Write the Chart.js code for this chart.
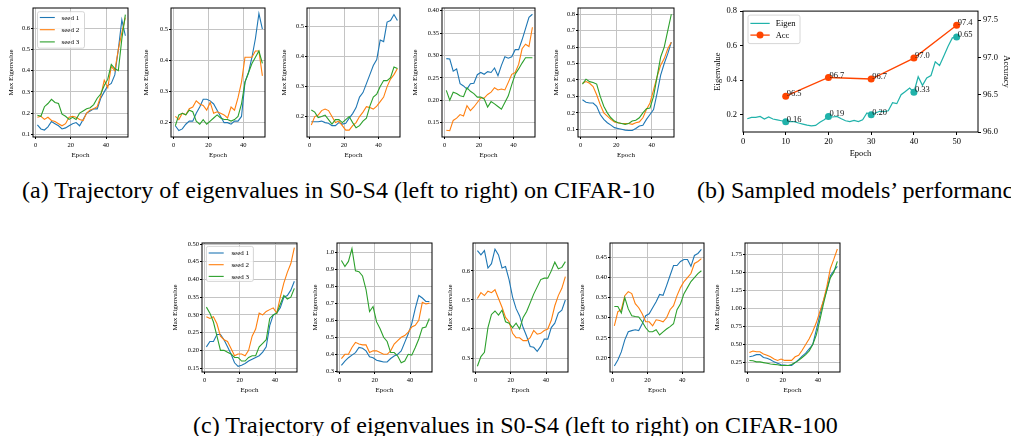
<!DOCTYPE html>
<html>
<head>
<meta charset="utf-8">
<title>Eigenvalue trajectories</title>
<script src="https://cdn.jsdelivr.net/npm/chart.js@4.4.1/dist/chart.umd.min.js"></script>
<style>
  html, body { margin: 0; padding: 0; background: #fff; }
  body { position: relative; width: 1011px; height: 436px; overflow: hidden; font-family: "Liberation Serif", "Times New Roman", serif; }
  .panel { position: absolute; }
  .caption { position: absolute; font-size: 24px; line-height: 1; white-space: nowrap; color: #000; }
</style>
</head>
<body>
<div class="caption" style="left:22px;top:178px">(a) Trajectory of eigenvalues in S0-S4 (left to right) on CIFAR-10</div>
<div class="caption" style="left:697px;top:178px">(b) Sampled models’ performance</div>
<div class="caption" style="left:193px;top:413px">(c) Trajectory of eigenvalues in S0-S4 (left to right) on CIFAR-100</div>
<script>
// ---- data ----
const epochs = [1, 3, 5, 7, 9, 11, 13, 15, 17, 19, 21, 23, 25, 27, 29, 31, 33, 35, 37, 39, 41, 43, 45, 47, 49, 51];
const xTicks = [0, 20, 40];
const seedLabels = ['seed 1', 'seed 2', 'seed 3'];

// CIFAR-10
const c10s0Seed1 = [0.144,0.125,0.12,0.135,0.16,0.15,0.14,0.125,0.13,0.14,0.15,0.155,0.14,0.17,0.2,0.21,0.22,0.22,0.27,0.3,0.33,0.34,0.38,0.5,0.64,0.565];
const c10s0Seed2 = [0.18,0.185,0.17,0.18,0.165,0.16,0.15,0.14,0.15,0.18,0.185,0.18,0.17,0.165,0.2,0.215,0.22,0.23,0.28,0.355,0.32,0.42,0.4,0.5,0.58,0.65];
const c10s0Seed3 = [0.19,0.185,0.23,0.245,0.265,0.25,0.245,0.195,0.185,0.17,0.18,0.17,0.2,0.21,0.22,0.225,0.24,0.27,0.29,0.33,0.36,0.43,0.41,0.4,0.55,0.665];
const c10s0Ticks = [0.1, 0.2, 0.3, 0.4, 0.5, 0.6];

const c10s1Seed1 = [0.19,0.175,0.18,0.195,0.205,0.205,0.23,0.25,0.275,0.275,0.27,0.26,0.24,0.22,0.2,0.2,0.195,0.205,0.205,0.22,0.33,0.36,0.41,0.47,0.55,0.5];
const c10s1Seed2 = [0.22,0.21,0.23,0.225,0.245,0.25,0.27,0.26,0.255,0.24,0.265,0.23,0.235,0.23,0.225,0.215,0.25,0.24,0.28,0.33,0.41,0.41,0.41,0.43,0.43,0.35];
const c10s1Seed3 = [0.19,0.225,0.23,0.225,0.24,0.235,0.205,0.195,0.21,0.195,0.205,0.215,0.225,0.215,0.21,0.21,0.205,0.21,0.22,0.26,0.33,0.36,0.39,0.41,0.43,0.39];
const c10s1Ticks = [0.2, 0.3, 0.4, 0.5];

const c10s2Seed1 = [0.183,0.183,0.183,0.185,0.18,0.178,0.17,0.17,0.18,0.175,0.178,0.195,0.21,0.23,0.265,0.28,0.31,0.34,0.37,0.39,0.455,0.45,0.515,0.52,0.54,0.52];
const c10s2Seed2 = [0.172,0.2,0.205,0.22,0.225,0.22,0.2,0.18,0.185,0.17,0.155,0.155,0.17,0.18,0.2,0.215,0.233,0.23,0.225,0.235,0.25,0.265,0.3,0.325,0.34,0.36];
const c10s2Seed3 = [0.222,0.215,0.197,0.2,0.205,0.19,0.175,0.19,0.19,0.18,0.19,0.2,0.18,0.163,0.17,0.185,0.195,0.235,0.265,0.275,0.3,0.32,0.32,0.33,0.365,0.36];
const c10s2Ticks = [0.2, 0.3, 0.4, 0.5];

const c10s3Seed1 = [0.293,0.292,0.265,0.27,0.237,0.232,0.225,0.237,0.238,0.257,0.262,0.258,0.264,0.262,0.272,0.255,0.278,0.297,0.294,0.297,0.313,0.313,0.335,0.36,0.385,0.392];
const c10s3Seed2 = [0.133,0.132,0.155,0.16,0.168,0.165,0.188,0.177,0.185,0.195,0.205,0.205,0.213,0.218,0.228,0.223,0.225,0.223,0.24,0.258,0.262,0.28,0.315,0.325,0.32,0.363];
const c10s3Seed3 = [0.222,0.2,0.218,0.215,0.21,0.208,0.228,0.22,0.215,0.207,0.207,0.203,0.185,0.197,0.192,0.186,0.18,0.195,0.21,0.235,0.258,0.27,0.283,0.295,0.295,0.295];
const c10s3Ticks = [0.15, 0.2, 0.25, 0.3, 0.35, 0.4];

const c10s4Seed1 = [0.28,0.265,0.26,0.26,0.24,0.19,0.16,0.14,0.125,0.11,0.105,0.1,0.095,0.093,0.093,0.105,0.12,0.125,0.16,0.19,0.22,0.32,0.43,0.5,0.56,0.63];
const c10s4Seed2 = [0.38,0.39,0.38,0.36,0.31,0.25,0.2,0.18,0.16,0.145,0.14,0.135,0.135,0.135,0.13,0.14,0.145,0.17,0.22,0.26,0.34,0.42,0.49,0.53,0.59,0.63];
const c10s4Seed3 = [0.375,0.405,0.39,0.385,0.375,0.3,0.24,0.2,0.17,0.15,0.14,0.135,0.13,0.135,0.15,0.155,0.17,0.2,0.225,0.23,0.3,0.42,0.54,0.6,0.7,0.8];
const c10s4Ticks = [0.1, 0.2, 0.3, 0.4, 0.5, 0.6, 0.7, 0.8];

// CIFAR-100
const c100s0Seed1 = [0.21,0.225,0.225,0.245,0.245,0.23,0.21,0.19,0.165,0.155,0.158,0.163,0.17,0.175,0.18,0.185,0.195,0.21,0.27,0.3,0.305,0.32,0.35,0.355,0.37,0.395];
const c100s0Seed2 = [0.295,0.29,0.295,0.275,0.24,0.23,0.225,0.205,0.185,0.19,0.19,0.185,0.2,0.24,0.26,0.305,0.3,0.31,0.315,0.32,0.305,0.35,0.39,0.42,0.445,0.49];
const c100s0Seed3 = [0.322,0.305,0.28,0.24,0.2,0.2,0.195,0.19,0.18,0.18,0.17,0.17,0.18,0.185,0.185,0.21,0.22,0.23,0.29,0.3,0.305,0.33,0.355,0.345,0.35,0.375];
const c100s0Ticks = [0.15, 0.2, 0.25, 0.3, 0.35, 0.4, 0.45, 0.5];

const c100s1Seed1 = [0.335,0.36,0.38,0.395,0.41,0.44,0.435,0.42,0.385,0.38,0.365,0.36,0.355,0.355,0.375,0.39,0.4,0.42,0.47,0.52,0.58,0.67,0.745,0.73,0.71,0.71];
const c100s1Seed2 = [0.375,0.4,0.4,0.44,0.47,0.46,0.455,0.455,0.41,0.42,0.42,0.41,0.4,0.4,0.42,0.46,0.48,0.5,0.51,0.53,0.56,0.57,0.6,0.705,0.695,0.7];
const c100s1Seed3 = [0.95,0.915,0.945,1.02,0.89,0.885,0.86,0.78,0.65,0.68,0.59,0.55,0.5,0.475,0.41,0.41,0.39,0.35,0.36,0.4,0.395,0.44,0.49,0.555,0.56,0.61];
const c100s1Ticks = [0.3, 0.4, 0.5, 0.6, 0.7, 0.8, 0.9, 1.0];

const c100s2Seed1 = [0.67,0.655,0.67,0.61,0.625,0.675,0.655,0.61,0.615,0.57,0.51,0.47,0.445,0.405,0.375,0.34,0.337,0.323,0.34,0.365,0.365,0.405,0.42,0.455,0.465,0.5];
const c100s2Seed2 = [0.505,0.525,0.515,0.53,0.525,0.535,0.505,0.475,0.44,0.425,0.385,0.37,0.37,0.36,0.36,0.37,0.395,0.382,0.385,0.395,0.4,0.43,0.48,0.515,0.54,0.58];
const c100s2Seed3 = [0.272,0.305,0.32,0.405,0.45,0.462,0.448,0.465,0.425,0.42,0.405,0.42,0.4,0.44,0.46,0.49,0.52,0.545,0.57,0.575,0.575,0.6,0.63,0.607,0.612,0.632];
const c100s2Ticks = [0.3, 0.4, 0.5, 0.6];

const c100s3Seed1 = [0.18,0.195,0.215,0.245,0.265,0.268,0.27,0.268,0.285,0.305,0.31,0.325,0.34,0.358,0.356,0.38,0.405,0.43,0.43,0.44,0.445,0.445,0.428,0.455,0.46,0.47];
const c100s3Seed2 = [0.28,0.315,0.32,0.355,0.365,0.36,0.335,0.325,0.31,0.29,0.29,0.28,0.295,0.293,0.29,0.3,0.32,0.33,0.355,0.375,0.39,0.4,0.41,0.435,0.44,0.447];
const c100s3Seed3 = [0.328,0.328,0.312,0.35,0.322,0.305,0.303,0.302,0.29,0.275,0.265,0.265,0.27,0.257,0.265,0.272,0.278,0.285,0.32,0.335,0.36,0.375,0.39,0.4,0.41,0.417];
const c100s3Ticks = [0.2, 0.25, 0.3, 0.35, 0.4, 0.45];

const c100s4Seed1 = [0.33,0.34,0.36,0.36,0.32,0.31,0.29,0.26,0.24,0.22,0.215,0.21,0.21,0.25,0.29,0.34,0.38,0.44,0.5,0.7,0.9,1.1,1.25,1.45,1.52,1.58];
const c100s4Seed2 = [0.39,0.41,0.4,0.4,0.37,0.35,0.33,0.3,0.28,0.3,0.28,0.28,0.28,0.33,0.35,0.42,0.5,0.58,0.68,0.8,0.95,1.1,1.3,1.55,1.68,1.82];
const c100s4Seed3 = [0.28,0.275,0.26,0.26,0.25,0.24,0.23,0.225,0.22,0.21,0.21,0.21,0.225,0.25,0.28,0.32,0.36,0.41,0.5,0.63,0.83,1.05,1.25,1.42,1.5,1.65];
const c100s4Ticks = [0.25, 0.5, 0.75, 1.0, 1.25, 1.5, 1.75];

// (b) sampled models
const bEpochs = [1,2,3,4,5,6,7,8,9,10,11,12,13,14,15,16,17,18,19,20,21,22,23,24,25,26,27,28,29,30,31,32,33,34,35,36,37,38,39,40,41,42,43,44,45,46,47,48,49,50];
const bEigen = [0.177,0.185,0.185,0.19,0.175,0.187,0.175,0.17,0.165,0.16, 0.16,0.16,0.152,0.146,0.14,0.136,0.138,0.156,0.171,0.19, 0.187,0.19,0.177,0.165,0.16,0.167,0.16,0.171,0.21,0.2, 0.21,0.22,0.218,0.223,0.27,0.264,0.316,0.335,0.355,0.33, 0.42,0.37,0.413,0.427,0.506,0.485,0.54,0.597,0.645,0.65];
const accEpochs = [10, 20, 30, 40, 50];
const accValues = [96.48, 96.73, 96.71, 96.99, 97.43];
const bXTicks = [0, 10, 20, 30, 40, 50];
const eigenTicks = [0.2, 0.4, 0.6, 0.8];
const accTicks = [96.0, 96.5, 97.0, 97.5];

// ---- styling ----
const SERIF = '"Liberation Serif", "Times New Roman", serif';
const SEED_COLORS = ['#1f77b4', '#ff7f0e', '#2ca02c'];
const GRID_COLOR = '#c4c4c4';
const TEAL = '#20b2aa';
const RED_ORANGE = '#ff4500';

Chart.defaults.animation = false;
Chart.defaults.color = '#000';

function makeCanvas(left, top, w, h) {
    const canvas = document.createElement('canvas');
    canvas.className = 'panel';
    canvas.width = w;
    canvas.height = h;
    canvas.style.left = left + 'px';
    canvas.style.top = top + 'px';
    canvas.style.width = w + 'px';
    canvas.style.height = h + 'px';
    document.body.appendChild(canvas);
    return canvas;
}

// black box round the plot area, like matplotlib spines
const framePlugin = {
    id: 'frame',
    afterDatasetsDraw(chart) {
        const a = chart.chartArea, ctx = chart.ctx;
        ctx.save();
        ctx.strokeStyle = '#000';
        ctx.lineWidth = 1;
        ctx.strokeRect(a.left, a.top, a.right - a.left, a.bottom - a.top);
        ctx.restore();
    }
};

// matplotlib-style legend drawn inside the plot area
function legendPlugin(box) {
    return {
        id: 'mplLegend',
        afterDraw(chart) {
            const a = chart.chartArea, ctx = chart.ctx;
            const x = a.left + box.x, y = a.top + box.y;
            ctx.save();
            ctx.beginPath();
            ctx.roundRect(x, y, box.w, box.h, 2);
            ctx.fillStyle = 'rgba(255,255,255,0.85)';
            ctx.fill();
            ctx.strokeStyle = '#cccccc';
            ctx.lineWidth = 0.8;
            ctx.stroke();
            ctx.font = box.size + 'px ' + SERIF;
            ctx.textBaseline = 'middle';
            ctx.textAlign = 'left';
            chart.data.datasets.forEach((ds, i) => {
                const cy = y + box.first + i * box.row;
                ctx.strokeStyle = ds.borderColor;
                ctx.lineWidth = ds.borderWidth;
                ctx.beginPath();
                ctx.moveTo(x + box.lx, cy);
                ctx.lineTo(x + box.lx + box.line, cy);
                ctx.stroke();
                if (ds.legendMarker) {
                    ctx.fillStyle = ds.borderColor;
                    ctx.beginPath();
                    ctx.arc(x + box.lx + box.line / 2, cy, ds.legendMarker, 0, Math.PI * 2);
                    ctx.fill();
                }
                ctx.fillStyle = '#000';
                ctx.fillText(ds.label, x + box.tx, cy + 0.5);
            });
            ctx.restore();
        }
    };
}

function fixedTicks(values) {
    return function(scale) { scale.ticks = values.map(v => ({ value: v })); };
}

function seedPanel(p) {
    const [l, t, r, b] = p.frame;
    const padTop = 8, padRight = 4, xAxisH = 22;
    const w = r - l + p.yw + padRight;
    const h = b - t + padTop + xAxisH;
    const canvas = makeCanvas(l - p.yw, t - padTop, w, h);
    const tickFont = { family: SERIF, size: 6.5 };
    const titleFont = { family: SERIF, size: 7 };

    const plugins = [framePlugin];
    if (p.legend) plugins.push(legendPlugin(p.legend));

    new Chart(canvas, {
        type: 'line',
        data: {
            datasets: p.series.map((s, i) => ({
                label: seedLabels[i],
                data: epochs.map((e, k) => ({ x: e, y: s[k] })),
                borderColor: SEED_COLORS[i],
                borderWidth: 1.1,
                pointRadius: 0,
                fill: false,
                tension: 0,
                order: 3 - i
            }))
        },
        options: {
            responsive: false,
            events: [],
            layout: { padding: { top: padTop, right: padRight, left: 0, bottom: 0 } },
            plugins: { legend: { display: false }, tooltip: { enabled: false } },
            scales: {
                x: {
                    type: 'linear',
                    min: -1.5,
                    max: 52.5,
                    afterBuildTicks: fixedTicks(xTicks),
                    afterFit: s => { s.height = xAxisH; },
                    ticks: { font: tickFont, color: '#000', padding: 2, maxRotation: 0, callback: v => String(v) },
                    grid: { color: GRID_COLOR, lineWidth: 1, tickColor: '#000', tickLength: 2 },
                    border: { display: false },
                    title: { display: true, text: 'Epoch', font: titleFont, color: '#000', padding: 0 }
                },
                y: {
                    type: 'linear',
                    min: p.yRange[0],
                    max: p.yRange[1],
                    afterBuildTicks: fixedTicks(p.ticks),
                    afterFit: s => { s.width = p.yw; },
                    ticks: { font: tickFont, color: '#000', padding: 1, callback: v => v.toFixed(p.dec) },
                    grid: { color: GRID_COLOR, lineWidth: 1, tickColor: '#000', tickLength: 2 },
                    border: { display: false },
                    title: { display: true, text: 'Max Eigenvalue', font: titleFont, color: '#000', padding: 0 }
                }
            }
        },
        plugins: plugins
    });
}

// ---- panel (a): CIFAR-10 ----
const seedLegendTop = { x: 4.5, y: 3.7, w: 47, h: 36.5, first: 5.8, row: 12.2, lx: 2.3, line: 15, tx: 24, size: 7 };
seedPanel({ frame: [33, 8, 128, 137], yw: 26, yRange: [0.087, 0.696], ticks: c10s0Ticks, dec: 1,
    series: [c10s0Seed1, c10s0Seed2, c10s0Seed3], legend: seedLegendTop });
seedPanel({ frame: [171, 8, 265, 137], yw: 29, yRange: [0.154, 0.568], ticks: c10s1Ticks, dec: 1,
    series: [c10s1Seed1, c10s1Seed2, c10s1Seed3] });
seedPanel({ frame: [307, 8, 400, 137], yw: 27, yRange: [0.132, 0.562], ticks: c10s2Ticks, dec: 1,
    series: [c10s2Seed1, c10s2Seed2, c10s2Seed3] });
seedPanel({ frame: [442, 8, 535, 137], yw: 31, yRange: [0.118, 0.406], ticks: c10s3Ticks, dec: 2,
    series: [c10s3Seed1, c10s3Seed2, c10s3Seed3] });
seedPanel({ frame: [578, 8, 674, 137], yw: 26, yRange: [0.053, 0.838], ticks: c10s4Ticks, dec: 1,
    series: [c10s4Seed1, c10s4Seed2, c10s4Seed3] });

// ---- panel (c): CIFAR-100 ----
const seedLegendBottom = { x: 4.4, y: 3.4, w: 47, h: 35, first: 6.6, row: 11.7, lx: 2.3, line: 15, tx: 25, size: 7 };
seedPanel({ frame: [202, 243, 297, 372], yw: 31, yRange: [0.139, 0.503], ticks: c100s0Ticks, dec: 2,
    series: [c100s0Seed1, c100s0Seed2, c100s0Seed3], legend: seedLegendBottom });
seedPanel({ frame: [337, 243, 432, 372], yw: 26, yRange: [0.296, 1.053], ticks: c100s1Ticks, dec: 1,
    series: [c100s1Seed1, c100s1Seed2, c100s1Seed3] });
seedPanel({ frame: [473, 243, 568, 372], yw: 27, yRange: [0.252, 0.696], ticks: c100s2Ticks, dec: 1,
    series: [c100s2Seed1, c100s2Seed2, c100s2Seed3] });
seedPanel({ frame: [610, 243, 704, 372], yw: 32, yRange: [0.165, 0.486], ticks: c100s3Ticks, dec: 2,
    series: [c100s3Seed1, c100s3Seed2, c100s3Seed3] });
seedPanel({ frame: [745, 243, 840, 372], yw: 32, yRange: [0.12, 1.903], ticks: c100s4Ticks, dec: 2,
    series: [c100s4Seed1, c100s4Seed2, c100s4Seed3] });

// ---- panel (b): eigenvalue vs accuracy ----
function perfPanel() {
    const frame = [743, 11, 978, 132];
    const yw = 30, yrw = 33, padTop = 8, xAxisH = 27;
    const w = frame[2] - frame[0] + yw + yrw;
    const h = frame[3] - frame[1] + padTop + xAxisH;
    const canvas = makeCanvas(frame[0] - yw, frame[1] - padTop, w, h);
    const font = { family: SERIF, size: 8.5 };

    // value labels next to the sampled points
    const valueLabels = {
        id: 'valueLabels',
        afterDatasetsDraw(chart) {
            const ctx = chart.ctx, xs = chart.scales.x, ys = chart.scales.y, as = chart.scales.acc;
            ctx.save();
            ctx.font = '8.5px ' + SERIF;
            ctx.fillStyle = '#111';
            ctx.textAlign = 'left';
            ctx.textBaseline = 'alphabetic';
            accEpochs.forEach((e, i) => {
                const px = xs.getPixelForValue(e) + 1;
                const ev = bEigen[bEpochs.indexOf(e)];
                ctx.fillText(ev.toFixed(2), px, ys.getPixelForValue(ev));
                ctx.fillText(accValues[i].toFixed(1), px, as.getPixelForValue(accValues[i]));
            });
            ctx.restore();
        }
    };

    new Chart(canvas, {
        type: 'line',
        data: {
            datasets: [{
                label: 'Eigen',
                yAxisID: 'y',
                data: bEpochs.map((e, k) => ({ x: e, y: bEigen[k] })),
                borderColor: TEAL,
                backgroundColor: TEAL,
                borderWidth: 1.2,
                pointRadius: bEpochs.map(e => accEpochs.includes(e) ? 3.5 : 0),
                pointBorderWidth: 0,
                pointBackgroundColor: TEAL,
                tension: 0,
                order: 2
            }, {
                label: 'Acc',
                yAxisID: 'acc',
                data: accEpochs.map((e, k) => ({ x: e, y: accValues[k] })),
                borderColor: RED_ORANGE,
                backgroundColor: RED_ORANGE,
                borderWidth: 1.3,
                pointRadius: 3.5,
                pointBorderWidth: 0,
                pointBackgroundColor: RED_ORANGE,
                tension: 0,
                legendMarker: 3.5,
                order: 1
            }]
        },
        options: {
            responsive: false,
            events: [],
            layout: { padding: { top: padTop, right: 0, left: 0, bottom: 0 } },
            plugins: { legend: { display: false }, tooltip: { enabled: false } },
            scales: {
                x: {
                    type: 'linear',
                    min: 0,
                    max: 55,
                    afterBuildTicks: fixedTicks(bXTicks),
                    afterFit: s => { s.height = xAxisH; },
                    ticks: { font: font, color: '#000', padding: 2, maxRotation: 0, callback: v => String(v) },
                    grid: { drawOnChartArea: false, tickColor: '#000', tickLength: 3 },
                    border: { display: false },
                    title: { display: true, text: 'Epoch', font: font, color: '#000', padding: 0 }
                },
                y: {
                    type: 'linear',
                    position: 'left',
                    min: 0.1,
                    max: 0.8,
                    afterBuildTicks: fixedTicks(eigenTicks),
                    afterFit: s => { s.width = yw; },
                    ticks: { font: font, color: '#000', padding: 3, callback: v => v.toFixed(1) },
                    grid: { drawOnChartArea: false, tickColor: '#000', tickLength: 3 },
                    border: { display: false },
                    title: { display: true, text: 'Eigenvalue', font: font, color: '#000', padding: 0 }
                },
                acc: {
                    type: 'linear',
                    position: 'right',
                    min: 96.0,
                    max: 97.62,
                    afterBuildTicks: fixedTicks(accTicks),
                    afterFit: s => { s.width = yrw; },
                    ticks: { font: font, color: '#000', padding: 2, callback: v => v.toFixed(1) },
                    grid: { drawOnChartArea: false, tickColor: '#000', tickLength: 3 },
                    border: { display: false },
                    title: { display: true, text: 'Accuracy', font: font, color: '#000', padding: 0 }
                }
            }
        },
        plugins: [framePlugin, valueLabels,
            legendPlugin({ x: 5, y: 4, w: 52, h: 28.5, first: 8.3, row: 11.7, lx: 2.4, line: 19.3, tx: 27.7, size: 8.5 })]
    });
}
perfPanel();
</script>
</body>
</html>
